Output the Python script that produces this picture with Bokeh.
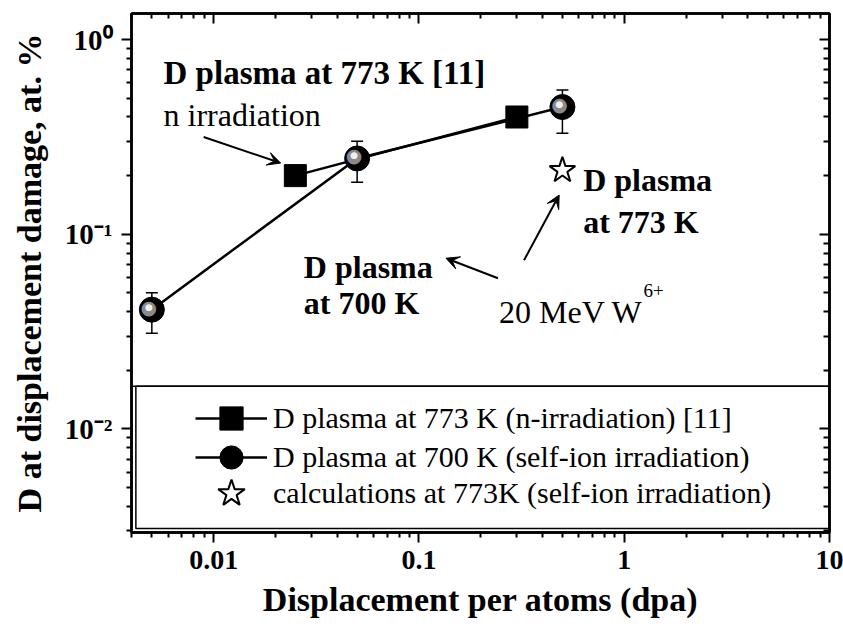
import numpy as np
from bokeh.plotting import figure
from bokeh.models import (Range1d, LogAxis, FixedTicker, Whisker, ColumnDataSource,
                          Legend, LegendItem, Label, Arrow, VeeHead, BoxAnnotation, TeeHead)
from bokeh.core.properties import value
from bokeh.embed import file_html
from bokeh.resources import INLINE

# ---------------- data ----------------
n_dpa = [0.025, 0.3]
n_D = [0.2, 0.4]

ion_dpa = [0.005, 0.05, 0.5]
ion_D = [0.041, 0.245, 0.45]
ion_lo = [0.031, 0.185, 0.33]
ion_hi = [0.050, 0.300, 0.55]

calc_dpa = [0.5]
calc_D = [0.213]

x_ticks = [0.01, 0.1, 1, 10]
x_tick_labels = ["0.01", "0.1", "1", "10"]
y_ticks = [0.01, 0.1, 1]
y_tick_labels = ["10\u207b\u00b2", "10\u207b\u00b9", "10\u2070"]

legend_labels = ["D plasma at 773 K (n-irradiation) [11]",
                 "D plasma at 700 K (self-ion irradiation)",
                 "calculations at 773K (self-ion irradiation)"]

FONT = "Liberation Serif"

x_minor = [m * 10.0 ** k for k in range(-3, 1) for m in range(2, 10)]
y_minor = [m * 10.0 ** k for k in range(-3, 0) for m in range(2, 10)]

p = figure(width=843, height=629, x_axis_type="log", y_axis_type="log",
           x_range=Range1d(0.00398, 10), y_range=Range1d(0.00294, 1.36),
           output_backend="svg", toolbar_location=None,
           min_border_left=131, min_border_right=14, min_border_top=13,
           min_border_bottom=97)
p.grid.visible = False
p.outline_line_color = "black"
p.outline_line_width = 2.5
p.background_fill_color = "white"
p.border_fill_color = "white"


def base_style(ax, ticks, minor):
    ax.ticker = FixedTicker(ticks=ticks, minor_ticks=minor)
    ax.axis_line_width = 2.5
    ax.axis_line_color = "black"
    ax.major_tick_line_width = 2
    ax.minor_tick_line_width = 2
    ax.major_tick_line_color = "black"
    ax.minor_tick_line_color = "black"


xa = p.xaxis[0]
base_style(xa, x_ticks, x_minor)
xa.major_tick_out = 10
xa.major_tick_in = 0
xa.minor_tick_out = 5
xa.minor_tick_in = 0
xa.major_label_overrides = dict(zip(x_ticks, x_tick_labels))
xa.major_label_text_font = FONT
xa.major_label_text_font_style = "bold"
xa.major_label_text_font_size = "28px"
xa.major_label_text_color = "black"
xa.major_label_standoff = 8
xa.axis_label = "Displacement per atoms (dpa)"
xa.axis_label_text_font = FONT
xa.axis_label_text_font_style = "bold"
xa.axis_label_text_font_size = "34px"
xa.axis_label_text_color = "black"
xa.axis_label_standoff = 9

ya = p.yaxis[0]
base_style(ya, y_ticks, y_minor)
ya.major_tick_out = 10
ya.major_tick_in = 0
ya.minor_tick_out = 5
ya.minor_tick_in = 0
ya.major_label_overrides = dict(zip(y_ticks, y_tick_labels))
ya.major_label_text_font = FONT
ya.major_label_text_font_style = "bold"
ya.major_label_text_font_size = "29px"
ya.major_label_text_color = "black"
ya.major_label_standoff = 9
ya.axis_label = "D at displacement damage, at. %"
ya.axis_label_text_font = FONT
ya.axis_label_text_font_style = "bold"
ya.axis_label_text_font_size = "34px"
ya.axis_label_text_color = "black"
ya.axis_label_standoff = 14

top = LogAxis()
base_style(top, x_ticks, x_minor)
top.major_tick_in = 10
top.major_tick_out = 0
top.minor_tick_in = 5
top.minor_tick_out = 0
top.major_label_overrides = {t: "" for t in x_ticks}
top.major_label_text_font_size = "8px"
top.major_label_standoff = 0
p.add_layout(top, "above")

right = LogAxis()
base_style(right, y_ticks, y_minor)
right.major_tick_in = 10
right.major_tick_out = 0
right.minor_tick_in = 6
right.minor_tick_out = 0
right.major_label_overrides = {t: "" for t in y_ticks}
right.major_label_text_font_size = "8px"
right.major_label_standoff = 0
p.add_layout(right, "right")

# ---------------- legend box (double frame) ----------------
p.add_layout(BoxAnnotation(left=0.00398, right=10, bottom=0.00294, top=0.01656,
                           fill_alpha=0, line_color="black", line_alpha=1,
                           line_width=1.5, level="underlay"))
p.add_layout(BoxAnnotation(left=0.00418, right=10, bottom=0.00308, top=0.01656,
                           fill_alpha=0, line_color="black", line_alpha=1,
                           line_width=1.5, level="underlay"))

# ---------------- series ----------------
src_ion = ColumnDataSource(dict(x=ion_dpa, y=ion_D, lo=ion_lo, hi=ion_hi))
w = Whisker(source=src_ion, base="x", upper="hi", lower="lo", line_width=1.5,
            line_color="black",
            upper_head=TeeHead(size=12, line_width=1.5, line_color="black"),
            lower_head=TeeHead(size=12, line_width=1.5, line_color="black"),
            level="underlay")
p.add_layout(w)

l_n = p.line(n_dpa, n_D, line_width=2.5, line_color="black")
l_ion = p.line("x", "y", source=src_ion, line_width=2.5, line_color="black")

s_n = p.scatter(n_dpa, n_D, marker="square", size=22, fill_color="black",
                line_color="black")
s_ion = p.scatter("x", "y", source=src_ion, marker="circle", size=25,
                  fill_color="black", line_color="black")
p.text("x", "y", source=src_ion, text=value("\u25cf"), text_font=value("DejaVu Sans"),
       text_font_size="19px", text_color="#8a8a8a", x_offset=-3, y_offset=-3,
       text_align="center", text_baseline="middle")
p.text("x", "y", source=src_ion, text=value("\u25cf"), text_font=value("DejaVu Sans"),
       text_font_size="9px", text_color="#f0f0f0", x_offset=-3, y_offset=-3,
       text_align="center", text_baseline="middle")

s_calc = p.scatter(calc_dpa, calc_D, marker="star", size=27, fill_color="white",
                   line_color="black", line_width=2)

# one legend per entry so that the rows can sit closer than the glyph box height
entries = [(legend_labels[0], [l_n, s_n], 85, 58),
           (legend_labels[1], [l_ion, s_ion], 46, 58),
           (legend_labels[2], [s_calc], 4, 70)]
for lab, rends, ypos, gh in entries:
    lg = Legend(items=[LegendItem(label=lab, renderers=rends)],
                location=(64, ypos), glyph_width=72, glyph_height=gh,
                label_height=gh, padding=0, margin=0, label_standoff=6,
                label_text_font=FONT, label_text_font_size="30px",
                label_text_color="black",
                border_line_alpha=0, background_fill_alpha=0)
    p.add_layout(lg)

# ---------------- annotations ----------------
ann = [
    ("D plasma at 773 K [11]", 0.0057, 0.673, "bold", "33px"),
    ("n irradiation", 0.0057, 0.409, "normal", "32px"),
    ("D plasma", 0.0275, 0.0676, "bold", "32px"),
    ("at 700 K", 0.0275, 0.0441, "bold", "32px"),
    ("D plasma", 0.631, 0.1897, "bold", "32px"),
    ("at 773 K", 0.631, 0.1153, "bold", "32px"),
    ("20 MeV W", 0.2455, 0.0397, "normal", "32px"),
    ("6+", 1.24, 0.0515, "normal", "19px"),
]
for t, x, y, st, fs in ann:
    p.add_layout(Label(x=x, y=y, text=t, text_font=FONT, text_font_style=st,
                       text_font_size=fs, text_color="black",
                       text_baseline="alphabetic", text_align="left"))

arrows = [
    (0.00894, 0.316, 0.0212, 0.232),
    (0.2427, 0.0594, 0.1355, 0.0753),
    (0.325, 0.0735, 0.482, 0.159),
]
for xs, ys, xe, ye in arrows:
    p.add_layout(Arrow(x_start=xs, y_start=ys, x_end=xe, y_end=ye, line_width=2,
                       line_color="black",
                       end=VeeHead(size=13, fill_color="black", line_color="black")))

open("out.html", "w").write(file_html(p, INLINE))
